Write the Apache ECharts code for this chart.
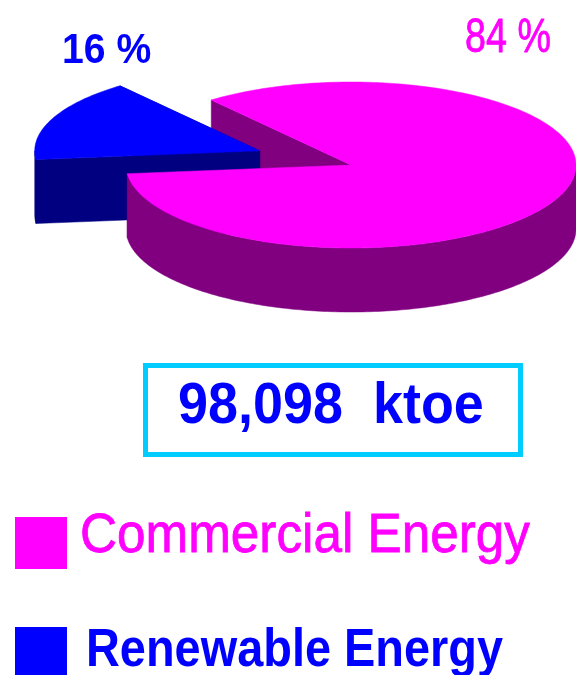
<!DOCTYPE html>
<html><head><meta charset="utf-8">
<script src="https://cdn.jsdelivr.net/npm/echarts@6/dist/echarts.min.js"></script>
<style>html,body{margin:0;padding:0;background:#fff}#c{width:576px;height:675px}</style>
</head><body><div id="c"></div>
<script>
// ---- data ----
const categories = ['Commercial Energy', 'Renewable Energy'];
const values = [84, 16];
const totalText = '98,098  ktoe';

// ---- styles / layout ----
const topColors = ['#FF00FF', '#0000FF'];
const sideColors = ['#800080', '#000080'];
const explode = [0, 0.44];            // in unit-radius
const START = 231.6;                  // screen degrees, clockwise
const DEPTH = 64;                     // px
const FONT = '"Liberation Sans", Arial, Helvetica, sans-serif';
const labelStyle = [
  { x: 465, y: 38.5, size: 49, weight: 'normal', sx: 0.77, sw: 0.8 },
  { x: 62, y: 51, size: 43, weight: 'bold', sx: 0.91, sw: 0 }
];

const total = values.reduce((a, b) => a + b, 0);
const rad = d => d * Math.PI / 180;

function renderItem(params, api) {
  const i = params.dataIndex;
  let cum = 0;
  for (let k = 0; k < i; k++) cum += values[k];
  const a0 = START + cum / total * 360;
  const a1 = a0 + api.value(0) / total * 360;
  const mid = rad((a0 + a1) / 2);
  const e = explode[i];
  const ox = Math.cos(mid) * e, oy = -Math.sin(mid) * e;
  const P = th => api.coord([ox + Math.cos(rad(th)), oy - Math.sin(rad(th))]);
  const C = api.coord([ox, oy]);
  const down = p => [p[0], p[1] + DEPTH];
  const base = e > 0 ? 10 : 0;
  const children = [];
  // cut faces
  [a0, a1].forEach(th => {
    const r = P(th);
    children.push({ type: 'polygon', z2: base + 1,
      shape: { points: [C, r, down(r), down(C)] },
      style: { fill: sideColors[i], stroke: sideColors[i], lineWidth: 0.5 } });
  });
  // outer wall (front half only)
  for (let k = 0; k <= 720; k += 360) {
    const s = Math.max(a0, k), t = Math.min(a1, k + 180);
    if (t > s) {
      const topPts = [], botPts = [];
      for (let th = s; th < t; th += 1) { const p = P(th); topPts.push(p); botPts.push(down(p)); }
      const q = P(t); topPts.push(q); botPts.push(down(q));
      children.push({ type: 'polygon', z2: e > 0 ? 11 : 20,
        shape: { points: topPts.concat(botPts.reverse()) },
        style: { fill: sideColors[i], stroke: sideColors[i], lineWidth: 0.5 } });
    }
  }
  // top face
  const pts = [C];
  for (let th = a0; th < a1; th += 1) pts.push(P(th));
  pts.push(P(a1));
  children.push({ type: 'polygon', z2: e > 0 ? 12 : 21,
    shape: { points: pts },
    style: { fill: topColors[i], stroke: topColors[i], lineWidth: 0.5 } });
  // percent label
  const ls = labelStyle[i];
  children.push({ type: 'text', z2: 30, x: ls.x, y: ls.y, scaleX: ls.sx,
    style: { text: Math.round(api.value(0) / total * 100) + ' %', fill: topColors[i],
      stroke: ls.sw ? topColors[i] : null, lineWidth: ls.sw,
      font: ls.weight + ' ' + ls.size + 'px ' + FONT,
      align: 'left', textAlign: 'left', verticalAlign: 'middle', textVerticalAlign: 'middle' } });
  return { type: 'group', children };
}

const legendStyle = [
  { y: 517, ty: 537, size: 56, weight: 'normal', sx: 0.915, tx: 80, sw: 0.8 },
  { y: 627, ty: 651, size: 53, weight: 'bold', sx: 0.885, tx: 86, sw: 0 }
];
const graphics = [
  { type: 'rect', shape: { x: 145.5, y: 365.5, width: 375, height: 89 },
    style: { fill: 'none', stroke: '#00CCFF', lineWidth: 5 } },
  { type: 'text', x: 178, y: 407, scaleX: 0.93,
    style: { text: totalText, fill: '#0000FF', font: 'bold 58px ' + FONT,
      align: 'left', textAlign: 'left', verticalAlign: 'middle', textVerticalAlign: 'middle' } }
];
categories.forEach((name, i) => {
  const ls = legendStyle[i];
  graphics.push({ type: 'rect', shape: { x: 15, y: ls.y, width: 52, height: 52 }, style: { fill: topColors[i] } });
  graphics.push({ type: 'text', x: ls.tx, y: ls.ty, scaleX: ls.sx,
    style: { text: name, fill: topColors[i], stroke: ls.sw ? topColors[i] : null, lineWidth: ls.sw,
      font: ls.weight + ' ' + ls.size + 'px ' + FONT,
      align: 'left', textAlign: 'left', verticalAlign: 'middle', textVerticalAlign: 'middle' } });
});

const chart = echarts.init(document.getElementById('c'), null, { renderer: 'canvas' });
chart.setOption({
  animation: false,
  backgroundColor: '#ffffff',
  grid: { left: 126, top: 82, width: 468, height: 166 },
  xAxis: { type: 'value', min: -1, max: 1, show: false },
  yAxis: { type: 'value', min: -1, max: 1, show: false },
  series: [{
    type: 'custom', coordinateSystem: 'cartesian2d', clip: false,
    renderItem: renderItem,
    data: values.map((v, i) => ({ name: categories[i], value: [v, i] }))
  }],
  graphic: graphics
});
</script>
</body></html>
